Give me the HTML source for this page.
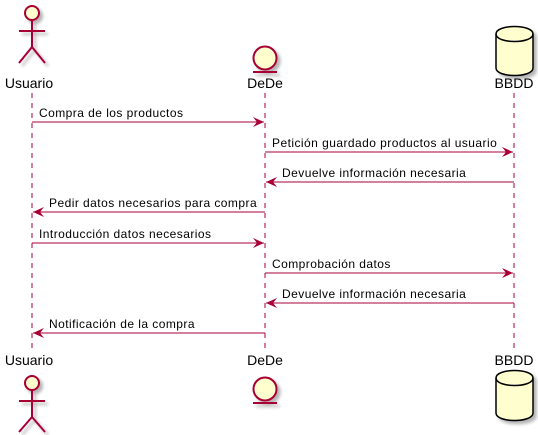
<!DOCTYPE html>
<html><head><meta charset="utf-8"><style>html,body{margin:0;padding:0;background:#fff}svg{display:block}</style></head>
<body>
<svg width="538" height="435" viewBox="0 0 538 435" xmlns="http://www.w3.org/2000/svg" font-family="Liberation Sans, sans-serif">
<defs>
<filter id="sh" x="-30%" y="-30%" width="160%" height="160%"><feGaussianBlur in="SourceAlpha" stdDeviation="1.5"/><feOffset dx="3" dy="3"/><feComponentTransfer><feFuncA type="linear" slope="0.3"/></feComponentTransfer><feMerge><feMergeNode/><feMergeNode in="SourceGraphic"/></feMerge></filter>
<marker id="a" markerWidth="12" markerHeight="10" refX="11" refY="5" orient="auto" markerUnits="userSpaceOnUse"><path d="M0,0 L11,5 L0,10 L4,5 Z" fill="#A80036"/></marker>
</defs>
<g stroke="#A80036" stroke-dasharray="5,5" stroke-width="1">
<line x1="32" y1="93" x2="32" y2="348"/>
<line x1="265" y1="93" x2="265" y2="348"/>
<line x1="514" y1="93" x2="514" y2="348"/>
</g>
<g filter="url(#sh)" stroke="#A80036" stroke-width="2" fill="#FEFECE">
<circle cx="32" cy="13" r="7"/>
<path d="M32 20 V47 M19 31 H45 M32 47 L19 63 M32 47 L45 63" fill="none"/>
<circle cx="265" cy="58" r="11.5"/>
<line x1="253" y1="72" x2="277" y2="72"/>
</g>
<g filter="url(#sh)" stroke="#000" stroke-width="1.5" fill="#FEFECE">
<path d="M496 34 C496 24 533 24 533 34 V68 C533 78 496 78 496 68 Z"/>
<path d="M496 34 C496 44 533 44 533 34" fill="none"/>
</g>
<g font-size="14" fill="#000" text-anchor="middle">
<text x="29" y="88">Usuario</text><text x="265" y="88">DeDe</text><text x="514" y="88">BBDD</text>
<text x="29" y="365">Usuario</text><text x="265" y="365">DeDe</text><text x="514" y="365">BBDD</text>
</g>
<g filter="url(#sh)" stroke="#A80036" stroke-width="2" fill="#FEFECE">
<circle cx="32" cy="383" r="7"/>
<path d="M32 390 V417 M19 401 H45 M32 417 L19 432 M32 417 L45 432" fill="none"/>
<circle cx="265" cy="389" r="11.5"/>
<line x1="253" y1="403" x2="277" y2="403"/>
</g>
<g filter="url(#sh)" stroke="#000" stroke-width="1.5" fill="#FEFECE">
<path d="M496 378 C496 368 533 368 533 378 V413 C533 423 496 423 496 413 Z"/>
<path d="M496 378 C496 388 533 388 533 378" fill="none"/>
</g>
<g stroke="#A80036" stroke-width="1" marker-end="url(#a)">
<line x1="32" y1="122" x2="264" y2="122"/>
<line x1="265" y1="152" x2="513" y2="152"/>
<line x1="514" y1="182" x2="266" y2="182"/>
<line x1="265" y1="212" x2="33" y2="212"/>
<line x1="32" y1="243" x2="264" y2="243"/>
<line x1="265" y1="273" x2="513" y2="273"/>
<line x1="514" y1="303" x2="266" y2="303"/>
<line x1="265" y1="333" x2="33" y2="333"/>
</g>
<g font-size="12" fill="#000" letter-spacing="0.45">
<text x="39" y="117">Compra de los productos</text>
<text x="272" y="147">Petición guardado productos al usuario</text>
<text x="282" y="177">Devuelve información necesaria</text>
<text x="49" y="207">Pedir datos necesarios para compra</text>
<text x="39" y="238">Introducción datos necesarios</text>
<text x="272" y="268">Comprobación datos</text>
<text x="282" y="298">Devuelve información necesaria</text>
<text x="49" y="328">Notificación de la compra</text>
</g>
</svg>
</body></html>
